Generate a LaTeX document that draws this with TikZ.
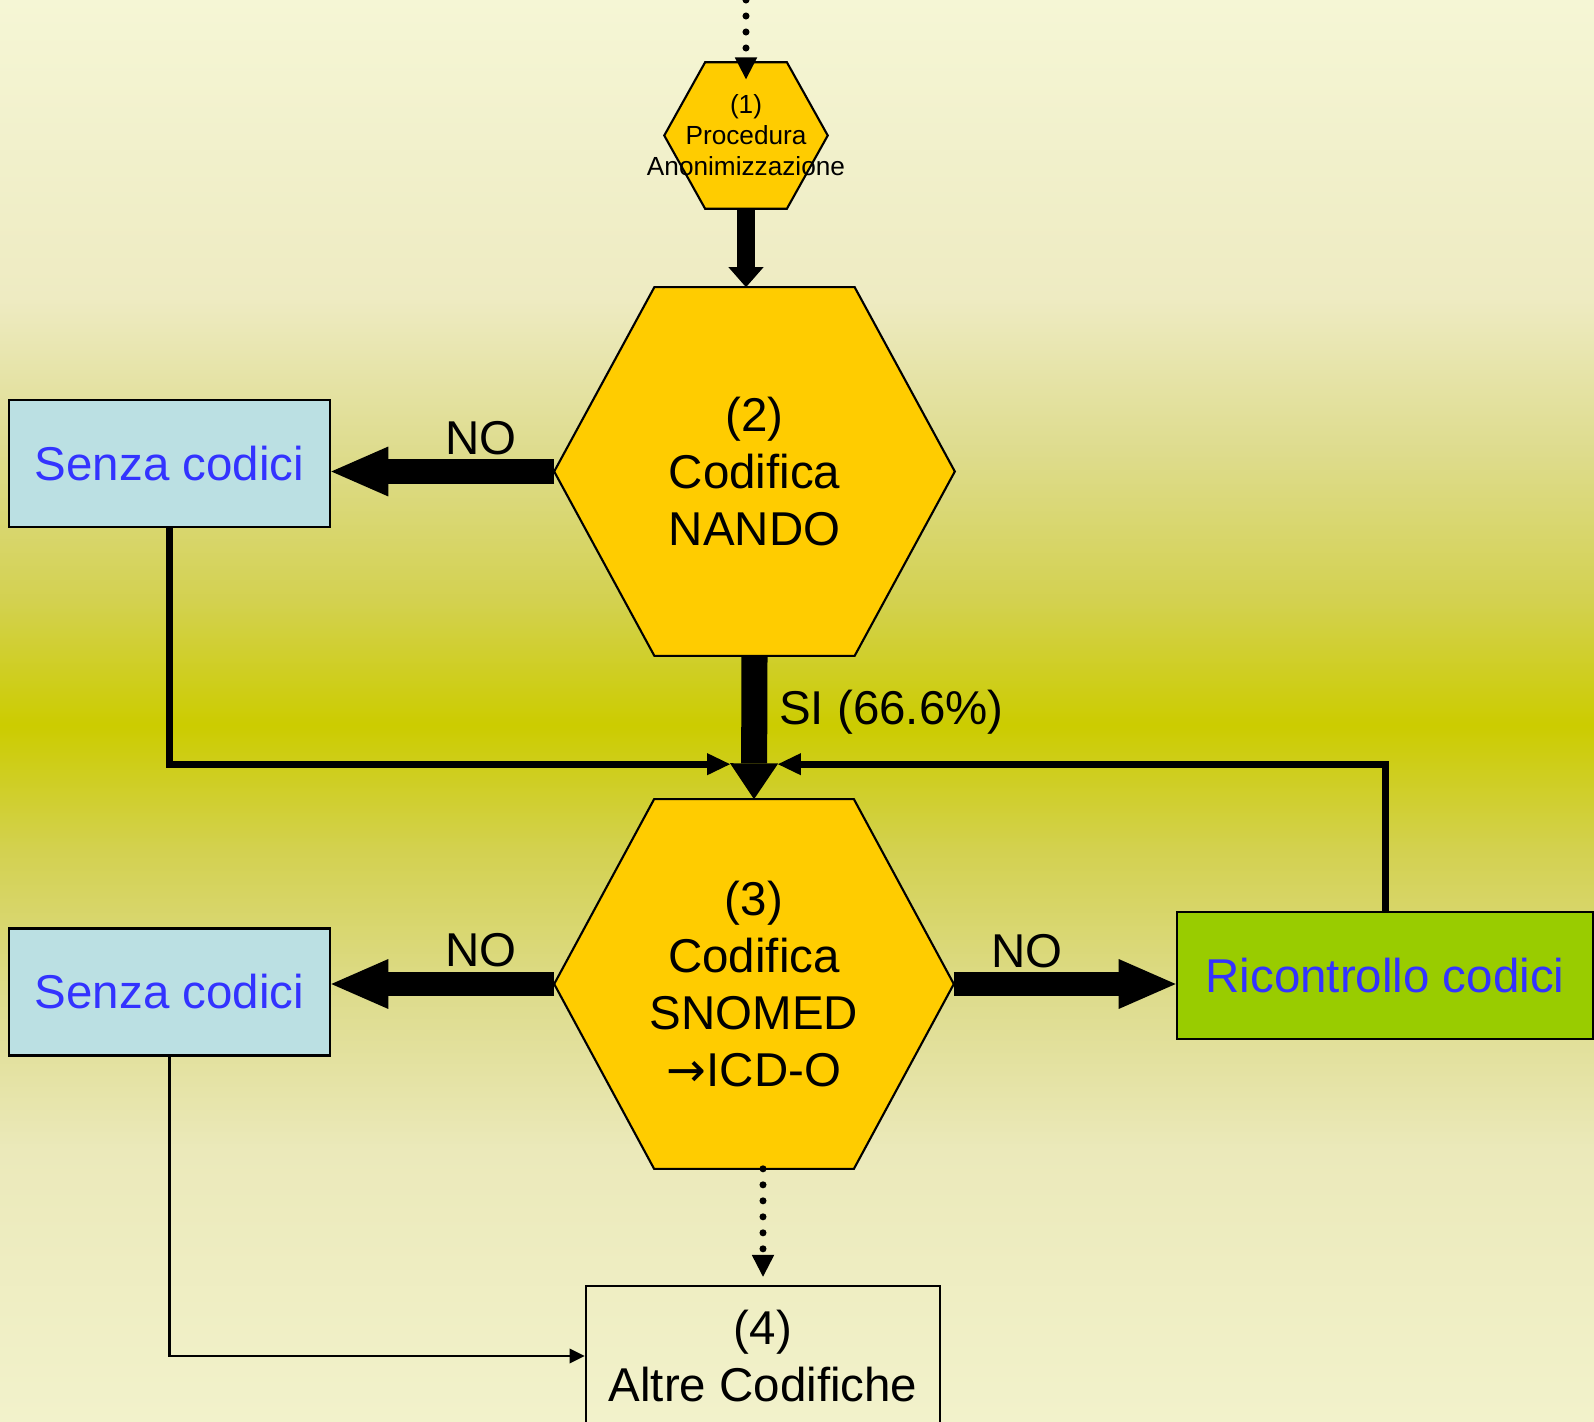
\documentclass[tikz,border=0pt]{standalone}
\usepackage{fontspec}
\setmainfont{Liberation Sans}
\newfontfamily\arrowfont{DejaVu Sans}
\usepackage{tikz}
\usetikzlibrary{calc,arrows.meta,positioning}

\definecolor{hexfill}{HTML}{FFCC00}
\definecolor{boxblue}{HTML}{BBE0E3}
\definecolor{boxgreen}{HTML}{99CC00}
\definecolor{textblue}{HTML}{3333FF}
\definecolor{bgtop}{HTML}{F5F6D5}
\definecolor{bgA}{HTML}{EEEBC2}
\definecolor{bgB}{HTML}{DEDC8E}
\definecolor{bgC}{HTML}{D3D150}
\definecolor{bgmid}{HTML}{CCCC00}
\definecolor{bgD}{HTML}{EBE9BA}
\definecolor{bgbot}{HTML}{F2F2CB}

\pgfdeclareverticalshading{bgshade}{100bp}{color(0bp)=(bgbot); color(25bp)=(bgbot); color(34.6bp)=(bgD); color(39.8bp)=(bgB); color(45.1bp)=(bgC); color(49.5bp)=(bgmid); color(53.9bp)=(bgC); color(59.2bp)=(bgB); color(64.5bp)=(bgA); color(75bp)=(bgtop); color(100bp)=(bgtop)}

\newcommand{\drawhex}[1]{\draw[hexline] (#1.west) -- ($(#1.north west)!0.25!(#1.north east)$) -- ($(#1.north west)!0.75!(#1.north east)$) -- (#1.east) -- ($(#1.south west)!0.75!(#1.south east)$) -- ($(#1.south west)!0.25!(#1.south east)$) -- cycle;}

\begin{document}
\begin{tikzpicture}[x=0.01cm,y=-0.01cm,
  hexbox/.style={rectangle,inner sep=0pt,draw=none},
  hexline/.style={draw=black,fill=hexfill,line width=0.6pt,line join=miter},
  hextext/.style={align=center,inner sep=0pt,font=\fontsize{13.5}{16.2}\selectfont},
  hexsmall/.style={align=center,inner sep=0pt,font=\fontsize{7.45}{8.8}\selectfont},
  codebox/.style={rectangle,draw=black,line width=0.7pt,minimum width=3.21cm,minimum height=1.27cm,font=\fontsize{13.5}{16.2}\selectfont,text=textblue},
  lbl/.style={inner sep=0pt,outer sep=0pt,font=\fontsize{13.5}{16.2}\selectfont},
  dotarrow/.style={line width=2pt,line cap=round,dash pattern=on 0pt off 4.55pt,-{Triangle[width=6.4pt,length=6.2pt,line width=0pt]}},
  flowA/.style={line width=5.1pt,-{Triangle[width=10pt,length=5.7pt,line width=0pt]}},
  flowSI/.style={line width=7.4pt,-{Triangle[width=13.7pt,length=10.2pt,line width=0pt]}},
  flowNO/.style={line width=7.1pt,-{Triangle[width=14.2pt,length=16.2pt,line width=0pt]}},
  loopline/.style={line width=2pt,-{Triangle[width=6.3pt,length=6.5pt,line width=0pt]}},
  thinline/.style={line width=0.6pt,-{Triangle[width=4.3pt,length=4.3pt,line width=0pt]}}]

\useasboundingbox (0,0) rectangle (1594,1422);
\fill[shading=bgshade] (0,0) rectangle (1594,1422);

% hexagons
\node[hexbox,minimum width=1.62cm,minimum height=1.45cm] (anon) at (746,135.5) {};
\node[hexbox,minimum width=3.99cm,minimum height=3.67cm] (nando) at (754.5,471.5) {};
\node[hexbox,minimum width=3.98cm,minimum height=3.68cm] (snomed) at (754,984) {};
\drawhex{anon}
\drawhex{nando}
\drawhex{snomed}
\node[hexsmall] (anon-txt) at (anon) {(1)\\Procedura\\Anonimizzazione};
\node[hextext] (nando-txt) at (nando) {(2)\\Codifica\\NANDO};
\node[hextext] (snomed-txt) at (snomed) {(3)\\Codifica\\SNOMED\\{\arrowfont →}ICD-O};

% boxes
\node[codebox,fill=boxblue] (senza1) at (169.5,463.5) {Senza codici};
\node[codebox,fill=boxblue] (senza2) at (169.5,992) {Senza codici};
\node[codebox,fill=boxgreen,minimum width=4.16cm] (ricontrollo) at (1385,975.5) {Ricontrollo codici};
\node[codebox,text=black,align=center,minimum width=3.54cm,minimum height=1.40cm] (altre) at (763,1356) {(4)\\Altre Codifiche};

% connectors
\coordinate (entry) at (746,0);
\coordinate (merge) at ($(snomed.north)+(0,-35)$);
\coordinate (mergeL) at ([xshift=-0.24cm]merge);
\coordinate (mergeR) at ([xshift=0.24cm]merge);

\draw[dotarrow] (entry) -- ([yshift=-0.17cm]anon.north);
\draw[flowA] (anon.south) -- (anon.south |- nando.north);
\draw[flowNO] (nando.west) -- node[lbl,pos=0.33,above=0.17cm] (no1) {NO} (nando.west -| senza1.east);
\draw[loopline] (senza1.south) |- (mergeL);
\draw[loopline] (ricontrollo.north) |- (mergeR);
\draw[flowSI] (nando.south) -- node[lbl,pos=0.39,right=0.25cm] (si) {SI (66.6\%)} (snomed.north);
\draw[flowNO] (snomed.west) -- node[lbl,pos=0.33,above=0.17cm] (no2) {NO} (snomed.west -| senza2.east);
\draw[flowNO] (snomed.east) -- node[lbl,pos=0.33,above=0.16cm] (no3) {NO} (snomed.east -| ricontrollo.west);
\draw[thinline] (senza2.south) |- (altre.west);
\draw[dotarrow] (snomed.south -| altre.north) -- ([yshift=0.08cm]altre.north);

\end{tikzpicture}
\end{document}
